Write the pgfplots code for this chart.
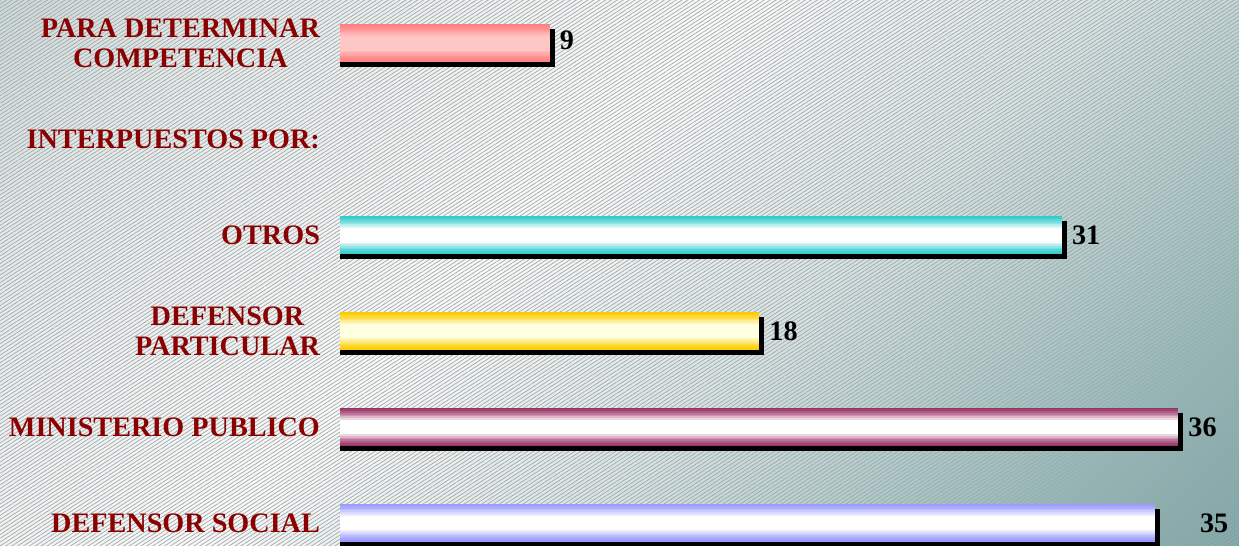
\documentclass[border=0pt]{standalone}
\usepackage{fontspec}
\setmainfont{Liberation Serif}
\usepackage{pgfplots}
\pgfplotsset{compat=1.18}
\usetikzlibrary{patterns.meta}
\definecolor{lab}{RGB}{139,0,0}
\definecolor{bg0}{RGB}{80,138,138}
\definecolor{bg1}{RGB}{150,188,188}
\definecolor{bg2}{RGB}{215,228,228}
\definecolor{bg3}{RGB}{247,249,249}
\definecolor{bg4}{RGB}{226,233,233}
\definecolor{bg5}{RGB}{165,190,192}
\definecolor{cPink}{RGB}{255,128,128}
\definecolor{cPinkM}{RGB}{255,198,198}
\definecolor{cTeal}{RGB}{51,204,204}
\definecolor{cYel}{RGB}{255,204,0}
\definecolor{cYelM}{RGB}{255,255,225}
\definecolor{cMar}{RGB}{153,51,102}
\definecolor{cBlue}{RGB}{153,153,255}
\pgfdeclareverticalshading{bgv}{100bp}{color(0bp)=(bg0); color(25bp)=(bg1); color(42bp)=(bg2); color(56bp)=(bg3); color(76bp)=(bg4); color(100bp)=(bg5)}
\tikzset{val/.style={anchor=west, font=\fontsize{14.1}{15.2}\selectfont\bfseries, inner sep=0pt}}
% gradient bar: value, category position, edge colour, middle colour
\newcommand\gbar[4]{%
 \foreach \i in {0,...,7}{%
  \pgfmathsetmacro\bw{0.4-0.035*\i}%
  \pgfmathtruncatemacro\pp{100*(\i/7)^1.3}%
  \edef\temp{\noexpand\addplot[xbar, bar shift=0pt, draw=none, bar width=\bw, fill=#4!\pp!#3] coordinates {(#1,#2)};}%
  \temp}}
\begin{document}
\begin{tikzpicture}
\useasboundingbox (0,0) rectangle (619.5pt,273pt);
\shade[shading=bgv, shading angle=45] (0,0) rectangle (619.5pt,273pt);
\fill[pattern={Lines[angle=33,distance=1.6pt,line width=0.35pt]}, pattern color=gray!70, fill opacity=0.4] (0,0) rectangle (619.5pt,273pt);
\begin{axis}[
  at={(170pt,0pt)}, anchor=south west,
  scale only axis, width=449.5pt, height=273pt,
  xmin=0, xmax=38.62, ymin=-0.24, ymax=5.45,
  axis line style={draw=none}, tick style={draw=none},
  xtick=\empty,
  ytick={0,1,2,3,4,5},
  yticklabels={DEFENSOR SOCIAL, MINISTERIO PUBLICO, {DEFENSOR\\PARTICULAR}, OTROS, INTERPUESTOS POR:, {PARA DETERMINAR\\COMPETENCIA}},
  yticklabel style={align=center, font=\fontsize{14.1}{15.2}\selectfont\bfseries, text=lab, xshift=-6.5pt},
  clip=false,
  shadow/.style={xbar, bar width=0.4, bar shift=-2.5pt, fill=black, draw=none, x filter/.expression={x+0.215}},
]
% shadows
\addplot[shadow] coordinates {(9,5)};
\addplot[shadow] coordinates {(31,3)};
\addplot[shadow] coordinates {(18,2)};
\addplot[shadow] coordinates {(36,1)};
\addplot[shadow] coordinates {(35,0)};
% bars
\gbar{9}{5}{cPink}{cPinkM}
\gbar{31}{3}{cTeal}{white}
\gbar{18}{2}{cYel}{cYelM}
\gbar{36}{1}{cMar}{white}
\gbar{35}{0}{cBlue}{white}
\node[val, xshift=5pt] at (axis cs:9,5.03) {9};
\node[val, xshift=5pt] at (axis cs:31,3.0) {31};
\node[val, xshift=5pt] at (axis cs:18,2.0) {18};
\node[val, xshift=5pt] at (axis cs:36,1.0) {36};
\node[val, xshift=22.5pt] at (axis cs:35,0) {35};
\end{axis}
\end{tikzpicture}
\end{document}
